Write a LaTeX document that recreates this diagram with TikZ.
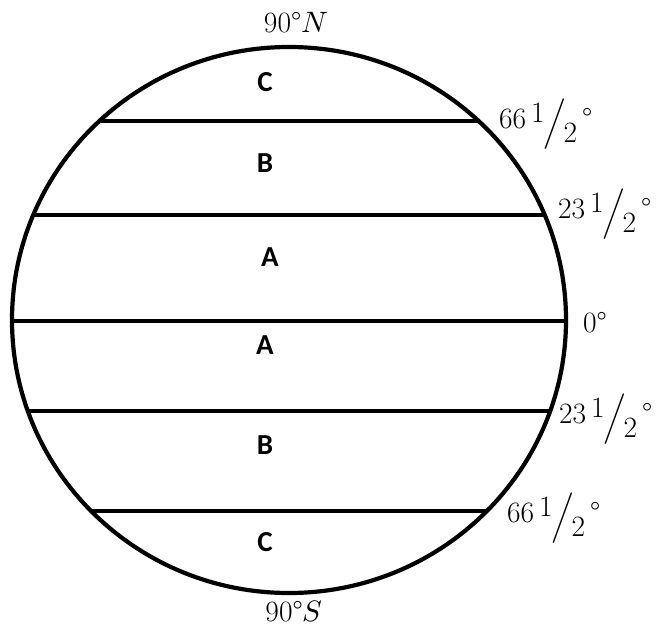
\documentclass[tikz,border=0pt]{standalone}
\usepackage{fontspec}
\usepackage{unicode-math}
\setmathfont{Latin Modern Math}
\newfontfamily\zonefont{Carlito}
\usetikzlibrary{positioning}
\newcommand{\halfdeg}[1]{#1\,\raisebox{0.2em}{1}\kern-0.05em\raisebox{-0.12em}{$\Big/$}\kern-0.08em\raisebox{-0.5em}{2}\,°}
\begin{document}
\begin{tikzpicture}[x=1pt,y=-1pt,
  zone/.style={font=\zonefont\bfseries\fontsize{29}{34}\selectfont, inner sep=0pt},
  lat/.style={font=\fontsize{29.5}{34}\selectfont, anchor=base west, inner sep=0pt},
  pole/.style={font=\fontsize{29.5}{34}\selectfont, anchor=base, inner sep=0pt},
  band/.style={line width=3.4pt}]
  \useasboundingbox (0,0) rectangle (656,626);
  % Globe et parallèles
  \begin{scope}
    \clip (289,320) ellipse [x radius=277, y radius=273];
    \foreach \y in {121,215,321,411,511}
      \draw[band] (0,\y) -- (656,\y);
  \end{scope}
  \draw[line width=4.2pt] (289,320) ellipse [x radius=277, y radius=273];
  % Zones
  \node[zone] (c1) at (265,82) {C};
  \node[zone] (b1) at (265,163) {B};
  \node[zone] (a1) at (270,257) {A};
  \node[zone] (a2) at (265,345) {A};
  \node[zone] (b2) at (265,445) {B};
  \node[zone] (c2) at (265,542) {C};
  % Latitudes
  \node[pole] (pn) at (296,33) {90°$N$};
  \node[pole] (ps) at (294,621) {90°$S$};
  \node[lat] (l66n) at (499,128) {\halfdeg{66}};
  \node[lat] (l23n) at (558,218) {\halfdeg{23}};
  \node[lat] (l0) at (583,332) {0°};
  \node[lat] (l23s) at (559,423) {\halfdeg{23}};
  \node[lat] (l66s) at (507,522) {\halfdeg{66}};
\end{tikzpicture}
\end{document}
